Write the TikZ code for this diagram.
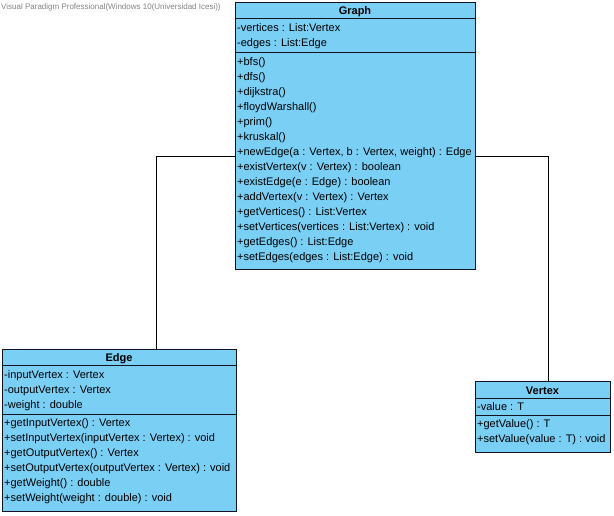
\documentclass[tikz,border=0pt]{standalone}
\usepackage{fontspec}
\setmainfont{Liberation Sans}
\definecolor{classfill}{RGB}{122,207,245}
\definecolor{classline}{RGB}{20,20,30}
\definecolor{wmgray}{RGB}{130,130,130}
\begin{document}
\begin{tikzpicture}[x=1pt,y=-1pt,
  classbox/.style={draw=classline,fill=classfill,line width=1pt,anchor=north west,inner sep=0pt,outer sep=0pt},
  sepline/.style={draw=classline,line width=1pt},
  member/.style={anchor=base west,inner sep=0pt,font=\fontsize{11}{12}\selectfont,text=black},
  cname/.style={anchor=base,inner sep=0pt,font=\fontsize{11}{12}\selectfont\bfseries,text=black},
  assoc/.style={draw=black,line width=1pt}]
\useasboundingbox (0,0) rectangle (614,515);
\node[anchor=base west,inner sep=0pt,font=\fontsize{8}{9}\selectfont,text=wmgray] (wm) at (1,9) {Visual Paradigm Professional(Windows 10(Universidad Icesi))};

% Graph
\node[classbox,minimum width=240pt,minimum height=267pt] (graph) at (235,2.5) {};
\draw[sepline] (235,18.3) -- (475,18.3);
\draw[sepline] (235,52.3) -- (475,52.3);
\node[cname] (gname) at (355,14.5) {Graph};
\node[member] (g1) at (237,31) {-vertices : List:Vertex};
\node[member] (g2) at (237,46.5) {-edges : List:Edge};
\node[member] (m1) at (237,65.5) {+bfs()};
\node[member] (m2) at (237,80.5) {+dfs()};
\node[member] (m3) at (237,95.5) {+dijkstra()};
\node[member] (m4) at (237,110.5) {+floydWarshall()};
\node[member] (m5) at (237,125.5) {+prim()};
\node[member] (m6) at (237,140.5) {+kruskal()};
\node[member] (m7) at (237,155.5) {+newEdge(a : Vertex, b : Vertex, weight) : Edge};
\node[member] (m8) at (237,170.5) {+existVertex(v : Vertex) : boolean};
\node[member] (m9) at (237,185.5) {+existEdge(e : Edge) : boolean};
\node[member] (m10) at (237,200.5) {+addVertex(v : Vertex) : Vertex};
\node[member] (m11) at (237,215.5) {+getVertices() : List:Vertex};
\node[member] (m12) at (237,230.5) {+setVertices(vertices : List:Vertex) : void};
\node[member] (m13) at (237,245.5) {+getEdges() : List:Edge};
\node[member] (m14) at (237,260.5) {+setEdges(edges : List:Edge) : void};

% Edge
\node[classbox,minimum width=234pt,minimum height=162pt] (edge) at (2,349.3) {};
\draw[sepline] (2,365) -- (236,365);
\draw[sepline] (2,414) -- (236,414);
\node[cname] (ename) at (119,361.5) {Edge};
\node[member] (e1) at (4,378) {-inputVertex : Vertex};
\node[member] (e2) at (4,393) {-outputVertex : Vertex};
\node[member] (e3) at (4,408) {-weight : double};
\node[member] (e4) at (4,426.5) {+getInputVertex() : Vertex};
\node[member] (e5) at (4,441.5) {+setInputVertex(inputVertex : Vertex) : void};
\node[member] (e6) at (4,456.5) {+getOutputVertex() : Vertex};
\node[member] (e7) at (4,471.5) {+setOutputVertex(outputVertex : Vertex) : void};
\node[member] (e8) at (4,486.5) {+getWeight() : double};
\node[member] (e9) at (4,501.5) {+setWeight(weight : double) : void};

% Vertex
\node[classbox,minimum width=135pt,minimum height=71pt] (vertex) at (475,381.3) {};
\draw[sepline] (475,398.3) -- (610,398.3);
\draw[sepline] (475,415.7) -- (610,415.7);
\node[cname] (vname) at (542.5,394) {Vertex};
\node[member] (v1) at (477,410) {-value : T};
\node[member] (v2) at (477,427.5) {+getValue() : T};
\node[member] (v3) at (477,442.5) {+setValue(value : T) : void};

% associations
\coordinate (ga) at (graph.west |- 0,156);
\coordinate (gb) at (graph.east |- 0,156);
\coordinate (ea) at (156,0 |- edge.north);
\coordinate (vb) at (548,0 |- vertex.north);
\draw[assoc] (ga) -| (ea);
\draw[assoc] (gb) -| (vb);
\end{tikzpicture}
\end{document}
